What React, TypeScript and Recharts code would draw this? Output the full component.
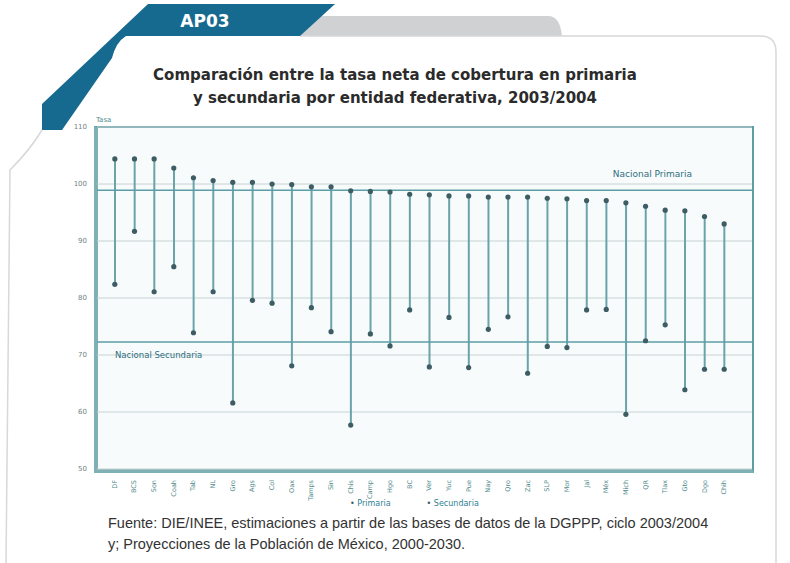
import { ComposedChart, Bar, Line, XAxis, YAxis, CartesianGrid, ReferenceLine } from "recharts"

const states = [
  "DF", "BCS", "Son", "Coah", "Tab", "NL", "Gro", "Ags", "Col", "Oax", "Tamps",
  "Sin", "Chis", "Camp", "Hgo", "BC", "Ver", "Yuc", "Pue", "Nay", "Qro", "Zac",
  "SLP", "Mor", "Jal", "Méx", "Mich", "QR", "Tlax", "Gto", "Dgo", "Chih",
]
const primaria = [
  104.4, 104.4, 104.4, 102.8, 101.1, 100.6, 100.3, 100.3, 100.0, 99.9, 99.5,
  99.5, 98.8, 98.7, 98.6, 98.2, 98.1, 97.9, 97.9, 97.7, 97.7, 97.7,
  97.5, 97.4, 97.1, 97.1, 96.7, 96.1, 95.4, 95.3, 94.3, 93.0,
]
const secundaria = [
  82.4, 91.7, 81.1, 85.5, 73.9, 81.1, 61.6, 79.6, 79.1, 68.1, 78.3,
  74.1, 57.7, 73.7, 71.6, 77.9, 67.9, 76.6, 67.8, 74.5, 76.7, 66.8,
  71.5, 71.3, 77.9, 78.0, 59.6, 72.5, 75.3, 63.9, 67.5, 67.5,
]
const yTicks = [50, 60, 70, 80, 90, 100, 110]
const nacionalPrimaria = 98.9
const nacionalSecundaria = 72.3

const data = states.map((name, i) => ({
  name,
  primaria: primaria[i],
  secundaria: secundaria[i],
  rango: [secundaria[i], primaria[i]],
}))

const TEAL = "#5d9ea6"
const DOT = "#3d5c63"

function XTick({ x, y, payload }: any) {
  return (
    <text x={x} y={y + 3} transform={`rotate(-90 ${x} ${y + 3})`} textAnchor="end" dominantBaseline="central"
      fontSize={6.5} fill="#4f8a8c" fontFamily="DejaVu Sans">
      {payload.value}
    </text>
  )
}

export default function App() {
  return (
    <div style={{ position: "relative", width: 790, height: 563, background: "#fff", overflow: "hidden", fontFamily: "DejaVu Sans" }}>
      <style>{`body{margin:0}`}</style>
      {/* decoration */}
      <svg width={790} height={563} style={{ position: "absolute", left: 0, top: 0 }}>
        <path d="M300 16 L548 16 Q560 16 562 36 L300 36 Z" fill="#cfd1d2" />
        <path d="M300 36 L760 36 Q776 36 776 52 L776 563" fill="none" stroke="#d6d8d9" strokeWidth={1.5} />
        <path d="M42 130 Q30 150 10 170 L6 563" fill="none" stroke="#d6d8d9" strokeWidth={1.5} />
        <path d="M148 4 L335 4 L300 36 L126 36 Q116 42 112 58 L62 130 L42 130 L42 104 Z" fill="#176a8f" />
        <text x={205} y={27} textAnchor="middle" fill="#fff" fontSize={17} fontWeight="bold">AP03</text>
        <text x={395} y={80} textAnchor="middle" fill="#2b2b2b" fontSize={15} fontWeight="bold">
          Comparación entre la tasa neta de cobertura en primaria
        </text>
        <text x={395} y={103} textAnchor="middle" fill="#2b2b2b" fontSize={15} fontWeight="bold">
          y secundaria por entidad federativa, 2003/2004
        </text>
        <text x={96} y={122} fill="#4f8a8c" fontSize={7}>Tasa</text>
      </svg>
      {/* plot frame */}
      <div style={{
        position: "absolute", left: 94, top: 126, width: 660, height: 347, boxSizing: "border-box",
        background: "#f7fbfc", borderTop: `2px solid ${TEAL}`, borderRight: `2px solid ${TEAL}`,
        borderLeft: "4px solid #7fb1b4", borderBottom: "4px solid #7fb1b4",
      }} />
      <div style={{ position: "absolute", left: 0, top: 0 }}>
        <ComposedChart width={790} height={563} data={data} margin={{ top: 127, right: 38, bottom: 64, left: 82 }}>
          <CartesianGrid vertical={false} stroke="#c7d2d3" />
          <XAxis dataKey="name" interval={0} tick={<XTick />} axisLine={false} tickLine={false}
            padding={{ left: 8, right: 18 }} height={30} />
          <YAxis domain={[50, 110]} ticks={yTicks} width={15} axisLine={false} tickLine={false}
            tick={{ fontSize: 7, fill: "#6f8384", fontFamily: "DejaVu Sans" }} tickMargin={4} />
          <ReferenceLine y={nacionalPrimaria} stroke={TEAL} strokeWidth={1.5}
            label={({ viewBox }: any) => (
              <text x={viewBox.x + viewBox.width - 60} y={viewBox.y - 13} textAnchor="end"
                fontSize={9} fill="#2f6f80" fontFamily="DejaVu Sans">Nacional Primaria</text>
            )} />
          <ReferenceLine y={nacionalSecundaria} stroke={TEAL} strokeWidth={1.5}
            label={({ viewBox }: any) => (
              <text x={viewBox.x + 18} y={viewBox.y + 16} fontSize={8.5} fill="#2f6f80" fontFamily="DejaVu Sans">
                Nacional Secundaria
              </text>
            )} />
          <Bar dataKey="rango" barSize={2} fill="#6aa3aa" isAnimationActive={false} />
          <Line dataKey="primaria" stroke="none" dot={{ r: 2.6, fill: DOT, stroke: "none" }} activeDot={false}
            isAnimationActive={false} />
          <Line dataKey="secundaria" stroke="none" dot={{ r: 2.6, fill: DOT, stroke: "none" }} activeDot={false}
            isAnimationActive={false} />
        </ComposedChart>
      </div>
      {/* legend */}
      <div style={{ position: "absolute", top: 499, left: 350, fontSize: 8, color: "#2f7f95", whiteSpace: "nowrap" }}>
        <span style={{ color: DOT }}>• </span>Primaria
        <span style={{ marginLeft: 36, color: DOT }}>• </span>Secundaria
      </div>
      {/* source */}
      <div style={{
        position: "absolute", left: 108, top: 513, fontSize: 14.5, lineHeight: "21px",
        color: "#333", fontFamily: "Liberation Sans", whiteSpace: "nowrap",
      }}>
        Fuente: DIE/INEE, estimaciones a partir de las bases de datos de la DGPPP, ciclo 2003/2004<br />
        y; Proyecciones de la Población de México, 2000-2030.
      </div>
    </div>
  )
}
